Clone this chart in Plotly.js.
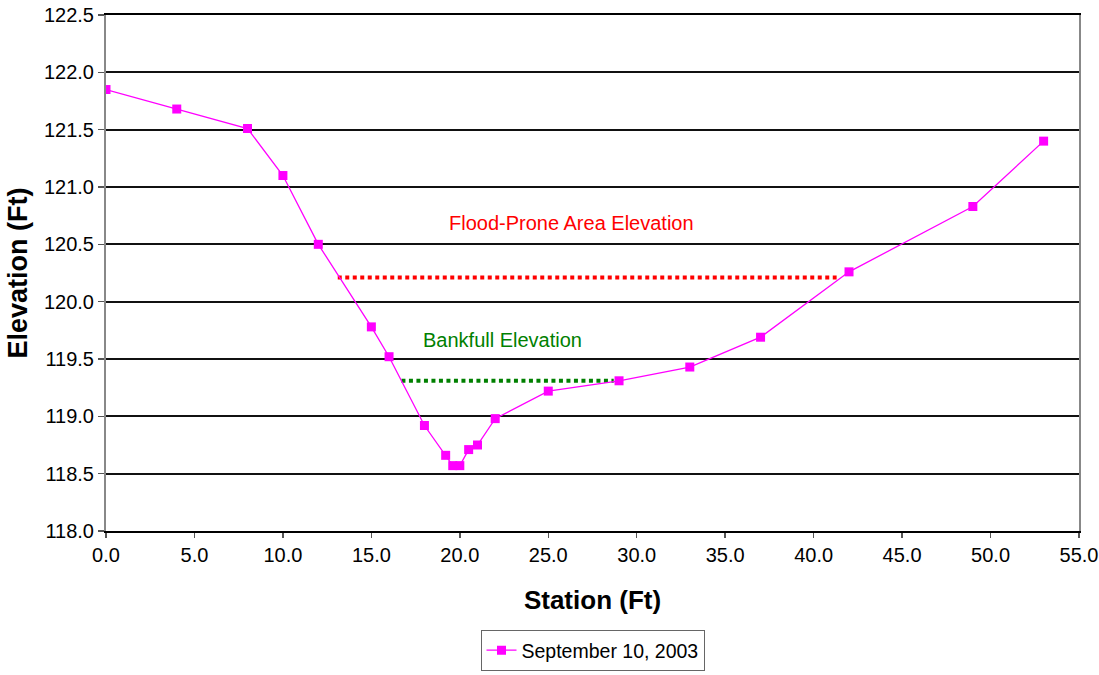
<!DOCTYPE html>
<html>
<head>
<meta charset="utf-8">
<script src="https://cdn.plot.ly/plotly-3.0.1.min.js"></script>
<style>
  html, body { margin: 0; padding: 0; background: #ffffff; }
  #chart { width: 1099px; height: 675px; }
</style>
</head>
<body>
<div id="chart"></div>
<script>
// Cross-section survey of the channel: station along the transect vs. ground elevation
const station = [0, 4, 8, 10, 12, 15, 16, 18, 19.2, 19.6, 20, 20.5, 21, 22, 25, 29, 33, 37, 42, 49, 53];
const elevation = [121.85, 121.68, 121.51, 121.1, 120.5, 119.78, 119.52, 118.92, 118.66, 118.57, 118.57,
                   118.71, 118.75, 118.98, 119.22, 119.31, 119.43, 119.69, 120.26, 120.83, 121.4];
const seriesName = 'September 10, 2003';

// Reference water-surface elevations and the stations they span
const floodProneX = [13.1, 41.3];
const floodProneElev = 120.21;
const bankfullX = [16.7, 28.7];
const bankfullElev = 119.31;

const floodLabel = 'Flood-Prone Area Elevation';
const bankfullLabel = 'Bankfull Elevation';

const xTicks = [0, 5, 10, 15, 20, 25, 30, 35, 40, 45, 50, 55];
const yTicks = [118.0, 118.5, 119.0, 119.5, 120.0, 120.5, 121.0, 121.5, 122.0, 122.5];

const FONT = 'Liberation Sans, Arial, sans-serif';

const traces = [
  {
    x: floodProneX,
    y: floodProneX.map(() => floodProneElev),
    mode: 'lines',
    line: { color: '#ff0000', width: 4, dash: '4px,3.5px' },
    showlegend: false,
    hoverinfo: 'skip'
  },
  {
    x: bankfullX,
    y: bankfullX.map(() => bankfullElev),
    mode: 'lines',
    line: { color: '#008000', width: 4, dash: '4px,3.5px' },
    showlegend: false,
    hoverinfo: 'skip'
  },
  {
    x: station,
    y: elevation,
    name: seriesName,
    mode: 'lines+markers',
    line: { color: '#ff00ff', width: 1.3 },
    marker: { symbol: 'square', size: 9, color: '#ff00ff' }
  }
];

const layout = {
  width: 1099,
  height: 675,
  margin: { l: 106, r: 20, t: 15, b: 144, autoexpand: false },
  paper_bgcolor: '#ffffff',
  plot_bgcolor: '#ffffff',
  font: { family: FONT, size: 20, color: '#000000' },
  xaxis: {
    range: [0, 55],
    tickvals: xTicks,
    tickformat: '.1f',
    ticks: 'outside',
    ticklen: 5,
    tickcolor: '#555555',
    tickwidth: 1.5,
    showgrid: false,
    zeroline: false,
    showline: true,
    linecolor: '#000000',
    linewidth: 2,
    mirror: true,
    tickfont: { family: FONT, size: 20, color: '#000000' },
    title: { text: '<b>Station (Ft)</b>', font: { family: FONT, size: 26, color: '#000000' }, standoff: 26 }
  },
  yaxis: {
    range: [118, 122.5],
    tickvals: yTicks,
    tickformat: '.1f',
    ticks: 'outside',
    ticklen: 6,
    tickcolor: '#555555',
    tickwidth: 1.5,
    showgrid: true,
    gridcolor: '#111111',
    gridwidth: 2,
    zeroline: false,
    showline: true,
    linecolor: '#888888',
    linewidth: 2,
    mirror: true,
    tickfont: { family: FONT, size: 20, color: '#000000' },
    title: { text: '<b>Elevation (Ft)</b>', font: { family: FONT, size: 27, color: '#000000' }, standoff: 8 }
  },
  legend: {
    orientation: 'h',
    x: 0.5,
    xanchor: 'center',
    yref: 'container',
    y: 0.006,
    yanchor: 'bottom',
    bgcolor: '#ffffff',
    bordercolor: '#666666',
    borderwidth: 1,
    font: { family: FONT, size: 19.5, color: '#000000' }
  },
  annotations: [
    {
      x: 26.3, y: 120.69, xref: 'x', yref: 'y',
      text: floodLabel, showarrow: false,
      font: { family: FONT, size: 20, color: '#ff0000' }
    },
    {
      x: 22.4, y: 119.67, xref: 'x', yref: 'y',
      text: bankfullLabel, showarrow: false,
      font: { family: FONT, size: 20, color: '#008000' }
    }
  ],
  showlegend: true
};

Plotly.newPlot('chart', traces, layout, { displayModeBar: false, staticPlot: true });
</script>
</body>
</html>
